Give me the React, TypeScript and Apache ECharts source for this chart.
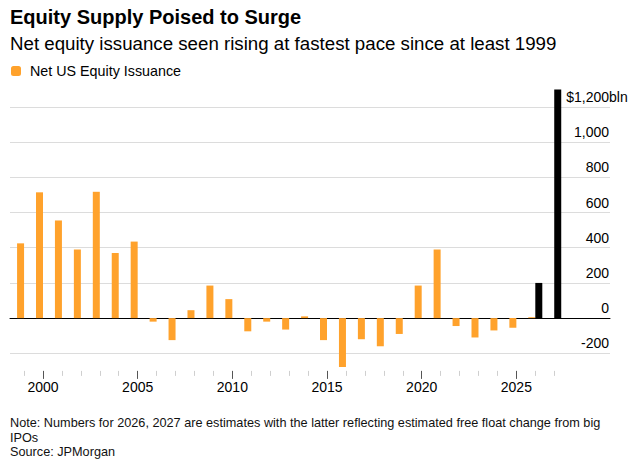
import React, { useEffect, useRef } from 'react';
import * as echarts from 'echarts';

const FONT = '"Liberation Sans", Arial, Helvetica, sans-serif';
const ORANGE = '#ffa22c';

const TITLE = 'Equity Supply Poised to Surge';
const SUBTITLE = 'Net equity issuance seen rising at fastest pace since at least 1999';
const NOTE = 'Note: Numbers for 2026, 2027 are estimates with the latter reflecting estimated free float change from big\nIPOs\nSource: JPMorgan';
const SERIES_NAME = 'Net US Equity Issuance';
const EST_NAME = 'Estimates';

const years = [
  '1999', '2000', '2001', '2002', '2003', '2004', '2005', '2006', '2007', '2008',
  '2009', '2010', '2011', '2012', '2013', '2014', '2015', '2016', '2017', '2018',
  '2019', '2020', '2021', '2022', '2023', '2024', '2025', '2026', '2027',
];

// $bln
const netIssuance = [
  425, 715, 555, 390, 718, 370, 435, -20, -125, 45,
  185, 108, -75, -20, -65, 10, -125, -278, -120, -160,
  -90, 185, 390, -45, -110, -70, -55, 5, null,
];

const estimates = [
  null, null, null, null, null, null, null, null, null, null,
  null, null, null, null, null, null, null, null, null, null,
  null, null, null, null, null, null, null, 200, 1300,
];

const yMin = -200;
const yMax = 1200;
const yStep = 200;
const yUnitPrefix = '$';
const yUnitSuffix = 'bln';

const fmtNum = (v: number) => {
  const s = Math.abs(v).toString().replace(/\B(?=(\d{3})+(?!\d))/g, ',');
  return (v < 0 ? '-' : '') + s;
};

export default function App() {
  const ref = useRef<HTMLDivElement>(null);

  useEffect(() => {
    document.body.style.margin = '0';
    if (!ref.current) return;
    const chart = echarts.init(ref.current, null, { renderer: 'svg' });

    const labelStyle = { fontFamily: FONT, fontSize: 14, color: '#000' };
    const isMajor = (_i: number, v: string) => Number(v) % 5 === 0;

    const option: any = {
      animation: false,
      backgroundColor: '#fff',
      title: [
        {
          text: TITLE, left: 10, top: 7, padding: 0,
          textStyle: { fontFamily: FONT, fontSize: 20, fontWeight: 'bold', color: '#000' },
        },
        {
          text: SUBTITLE, left: 10, top: 34, padding: 0,
          textStyle: { fontFamily: FONT, fontSize: 18.7, fontWeight: 'normal', color: '#000' },
        },
        {
          text: NOTE, left: 10, top: 416, padding: 0,
          textStyle: { fontFamily: FONT, fontSize: 12.7, fontWeight: 'normal', color: '#111', lineHeight: 14.5 },
        },
      ],
      legend: {
        data: [SERIES_NAME],
        left: 11, top: 64, padding: 0,
        icon: 'roundRect', itemWidth: 10, itemHeight: 10,
        selectedMode: false,
        textStyle: { fontFamily: FONT, fontSize: 14.3, color: '#000', padding: [0, 0, 0, 4] },
      },
      grid: [
        { left: 10, right: 29, top: 107, bottom: 110.7 },
        { left: 14.6, right: 75.3, top: 89.4, bottom: 93.1 },
        { left: 14.6, right: 75.3, top: 89.4, bottom: 93.1 },
      ],
      xAxis: [
        {
          gridIndex: 0, type: 'value', min: 0, max: 1,
          axisLine: { show: true, onZero: true, lineStyle: { color: '#000', width: 1 } },
          axisTick: { show: false }, axisLabel: { show: false }, splitLine: { show: false },
        },
        {
          gridIndex: 1, type: 'category', data: years, position: 'bottom',
          axisLine: { show: false, onZero: false },
          axisTick: { show: true, alignWithLabel: true, interval: 0, length: 5, lineStyle: { color: '#cfcfcf' } },
          axisLabel: { show: false }, splitLine: { show: false },
        },
        {
          gridIndex: 2, type: 'category', data: years, position: 'bottom',
          axisLine: { show: false, onZero: false },
          axisTick: { show: true, alignWithLabel: true, interval: isMajor, length: 8, lineStyle: { color: '#555' } },
          axisLabel: { ...labelStyle, interval: isMajor, margin: 9 },
          splitLine: { show: false },
        },
      ],
      yAxis: [
        {
          gridIndex: 0, type: 'value', position: 'right',
          min: yMin, max: yMax, interval: yStep,
          axisLine: { show: false, onZero: false },
          axisTick: { show: false },
          splitLine: { show: true, lineStyle: { color: '#dcdcdc', width: 1 } },
          axisLabel: {
            ...labelStyle,
            inside: true, margin: 1, align: 'right', verticalAlign: 'bottom',
            padding: [0, 0, 3, 0],
            formatter: (v: number) =>
              v === yMax ? `{a|${yUnitPrefix}${fmtNum(v)}}{b|${yUnitSuffix}}` : fmtNum(v),
            rich: {
              a: { ...labelStyle, align: 'left' },
              b: { ...labelStyle, align: 'left', width: 0 },
            },
          },
        },
        { gridIndex: 1, type: 'value', min: -300, max: 1300, show: false },
        { gridIndex: 2, type: 'value', min: -300, max: 1300, show: false },
      ],
      series: [
        {
          name: SERIES_NAME, type: 'bar', xAxisIndex: 1, yAxisIndex: 1,
          data: netIssuance, barWidth: 7, barGap: '0%',
          itemStyle: { color: ORANGE },
        },
        {
          name: EST_NAME, type: 'bar', xAxisIndex: 1, yAxisIndex: 1,
          data: estimates, barWidth: 7, barGap: '0%',
          itemStyle: { color: '#000' },
        },
      ],
    };

    chart.setOption(option);
    return () => chart.dispose();
  }, []);

  return <div ref={ref} style={{ width: 639, height: 464 }} />;
}
